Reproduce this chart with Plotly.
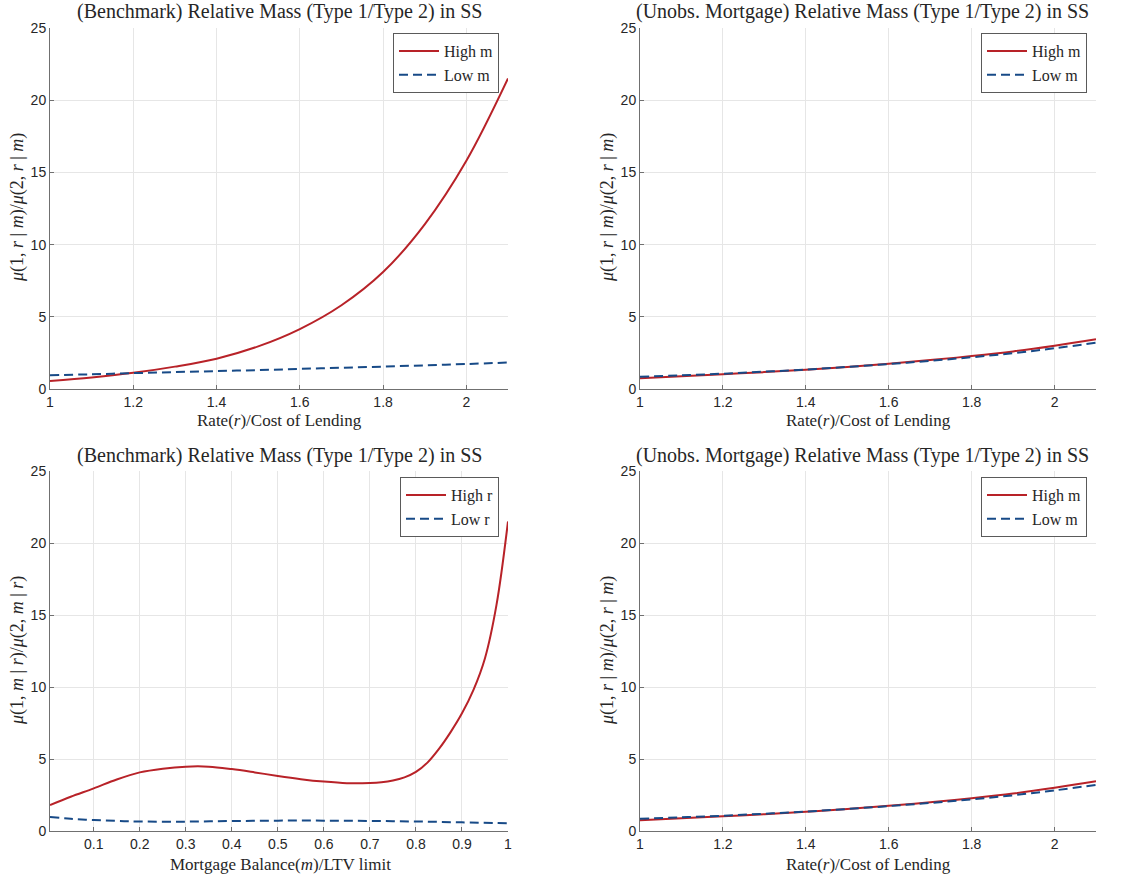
import plotly.graph_objects as go

# ---------------- data ----------------
rate = [1.0, 1.1, 1.2, 1.3, 1.4, 1.5, 1.6, 1.7, 1.8, 1.9, 2.0, 2.1]

bench_high_m = [0.55, 0.8, 1.12, 1.55, 2.1, 2.95, 4.15, 5.8, 8.1, 11.4, 15.8, 21.5]
bench_low_m = [0.95, 1.02, 1.1, 1.17, 1.24, 1.31, 1.39, 1.47, 1.55, 1.64, 1.73, 1.83]

unobs_high_m = [0.75, 0.88, 1.02, 1.17, 1.34, 1.53, 1.75, 2.0, 2.28, 2.6, 3.0, 3.45]
unobs_low_m = [0.85, 0.95, 1.06, 1.2, 1.35, 1.53, 1.73, 1.95, 2.2, 2.48, 2.82, 3.2]

balance = [0.005, 0.05, 0.1, 0.15, 0.2, 0.25, 0.3, 0.35, 0.4, 0.45, 0.5, 0.55,
           0.6, 0.65, 0.7, 0.725, 0.75, 0.775, 0.8, 0.825, 0.85, 0.875, 0.9,
           0.925, 0.95, 0.975, 1.0]
bench_high_r = [1.8, 2.38, 2.96, 3.58, 4.07, 4.33, 4.47, 4.47, 4.3, 4.07, 3.82, 3.6,
                3.43, 3.32, 3.33, 3.38, 3.5, 3.72, 4.1, 4.75, 5.7, 6.85, 8.17,
                9.8, 12.0, 15.7, 21.5]
balance_low = [0.005, 0.05, 0.1, 0.15, 0.2, 0.3, 0.4, 0.5, 0.6, 0.7, 0.8, 0.9, 1.0]
bench_low_r = [0.97, 0.85, 0.76, 0.7, 0.66, 0.65, 0.69, 0.72, 0.72, 0.7, 0.66, 0.6, 0.54]

rate_ticks = [1, 1.2, 1.4, 1.6, 1.8, 2]
rate_ticktext = ["1", "1.2", "1.4", "1.6", "1.8", "2"]
bal_ticks = [0.1, 0.2, 0.3, 0.4, 0.5, 0.6, 0.7, 0.8, 0.9, 1.0]
bal_ticktext = ["0.1", "0.2", "0.3", "0.4", "0.5", "0.6", "0.7", "0.8", "0.9", "1"]
y_ticks = [0, 5, 10, 15, 20, 25]

title_bench = "(Benchmark) Relative Mass (Type 1/Type 2) in SS"
title_unobs = "(Unobs. Mortgage) Relative Mass (Type 1/Type 2) in SS"
xlab_rate = "Rate(<i>r</i>)/Cost of Lending"
xlab_bal = "Mortgage Balance(<i>m</i>)/LTV limit"
ylab_rm = "<i>μ</i>(1, <i>r</i> | <i>m</i>)/<i>μ</i>(2, <i>r</i> | <i>m</i>)"
ylab_mr = "<i>μ</i>(1, <i>m</i> | <i>r</i>)/<i>μ</i>(2, <i>m</i> | <i>r</i>)"

# ---------------- style ----------------
W, H = 1124, 879
RED = "#B82228"
BLUE = "#174A87"
SERIF = "Liberation Serif, DejaVu Serif, serif"
SANS = "Liberation Sans, Arial, sans-serif"
GRID = "#e6e6e6"
AXC = "#707070"

def px_x(p):
    return p / W

def px_y(p):
    return 1 - p / H

fig = go.Figure()

panels = [
    ("x", "y", "legend", [(rate, bench_high_m), (rate, bench_low_m)], ["High m", "Low m"]),
    ("x2", "y2", "legend2", [(rate, unobs_high_m), (rate, unobs_low_m)], ["High m", "Low m"]),
    ("x3", "y3", "legend3", [(balance, bench_high_r), (balance_low, bench_low_r)], ["High r", "Low r"]),
    ("x4", "y4", "legend4", [(rate, unobs_high_m), (rate, unobs_low_m)], ["High m", "Low m"]),
]

for xa, ya, lg, series, names in panels:
    for i, ((xs, ys), nm) in enumerate(zip(series, names)):
        fig.add_trace(go.Scatter(
            x=xs, y=ys, name=nm, mode="lines", xaxis=xa, yaxis=ya, legend=lg,
            line=dict(color=RED if i == 0 else BLUE, width=2,
                      dash="solid" if i == 0 else "9px,5px",
                      shape="spline", smoothing=1.0),
        ))

xdoms = {"left": [px_x(50), px_x(508)], "right": [px_x(640), px_x(1096)]}
ydoms = {"top": [px_y(389), px_y(28)], "bottom": [px_y(831), px_y(471)]}

TICKFONT = dict(family=SANS, size=14, color="#262626")

def xaxis(dom, anchor, rng, tv, tt):
    return dict(domain=dom, anchor=anchor, range=rng, tickvals=tv, ticktext=tt,
                showgrid=True, gridcolor=GRID, gridwidth=1, zeroline=False,
                showline=True, linecolor=AXC, linewidth=1, ticks="inside",
                ticklen=4, tickcolor=AXC, tickfont=TICKFONT, automargin=False)

def yaxis(dom, anchor):
    return dict(domain=dom, anchor=anchor, range=[0, 25], tickvals=y_ticks,
                showgrid=True, gridcolor=GRID, gridwidth=1, zeroline=False,
                showline=True, linecolor=AXC, linewidth=1, ticks="inside",
                ticklen=4, tickcolor=AXC, tickfont=TICKFONT, automargin=False)

fig.update_layout(
    xaxis=xaxis(xdoms["left"], "y", [1, 2.1], rate_ticks, rate_ticktext),
    yaxis=yaxis(ydoms["top"], "x"),
    xaxis2=xaxis(xdoms["right"], "y2", [1, 2.1], rate_ticks, rate_ticktext),
    yaxis2=yaxis(ydoms["top"], "x2"),
    xaxis3=xaxis(xdoms["left"], "y3", [0.005, 1.0], bal_ticks, bal_ticktext),
    yaxis3=yaxis(ydoms["bottom"], "x3"),
    xaxis4=xaxis(xdoms["right"], "y4", [1, 2.1], rate_ticks, rate_ticktext),
    yaxis4=yaxis(ydoms["bottom"], "x4"),
)

def legend(xr, yt):
    return dict(x=px_x(xr), y=px_y(yt), xanchor="right", yanchor="top",
                bgcolor="white", bordercolor="#5a5a5a", borderwidth=1,
                font=dict(family=SERIF, size=16, color="#262626"),
                itemwidth=40, tracegroupgap=0)

fig.update_layout(
    legend=legend(499, 33),
    legend2=legend(1087, 33),
    legend3=legend(499, 477),
    legend4=legend(1087, 477),
)

ann = []
def text(x, y, t, size, angle=0):
    ann.append(dict(x=px_x(x), y=px_y(y), xref="paper", yref="paper", text=t,
                    showarrow=False, xanchor="center", yanchor="middle",
                    textangle=angle, font=dict(family=SERIF, size=size, color="#262626")))

text(279, 12, title_bench, 20)
text(862, 12, title_unobs, 20)
text(279, 455, title_bench, 20)
text(862, 455, title_unobs, 20)
text(279, 421, xlab_rate, 17)
text(868, 421, xlab_rate, 17)
text(280, 864, xlab_bal, 17)
text(868, 864, xlab_rate, 17)
text(17, 208, ylab_rm, 18, -90)
text(607, 208, ylab_rm, 18, -90)
text(17, 651, ylab_mr, 18, -90)
text(607, 651, ylab_rm, 18, -90)

fig.update_layout(
    annotations=ann,
    width=W, height=H,
    margin=dict(l=0, r=0, t=0, b=0, autoexpand=False),
    paper_bgcolor="white", plot_bgcolor="white",
    showlegend=True,
)

fig.write_html("out.html")
